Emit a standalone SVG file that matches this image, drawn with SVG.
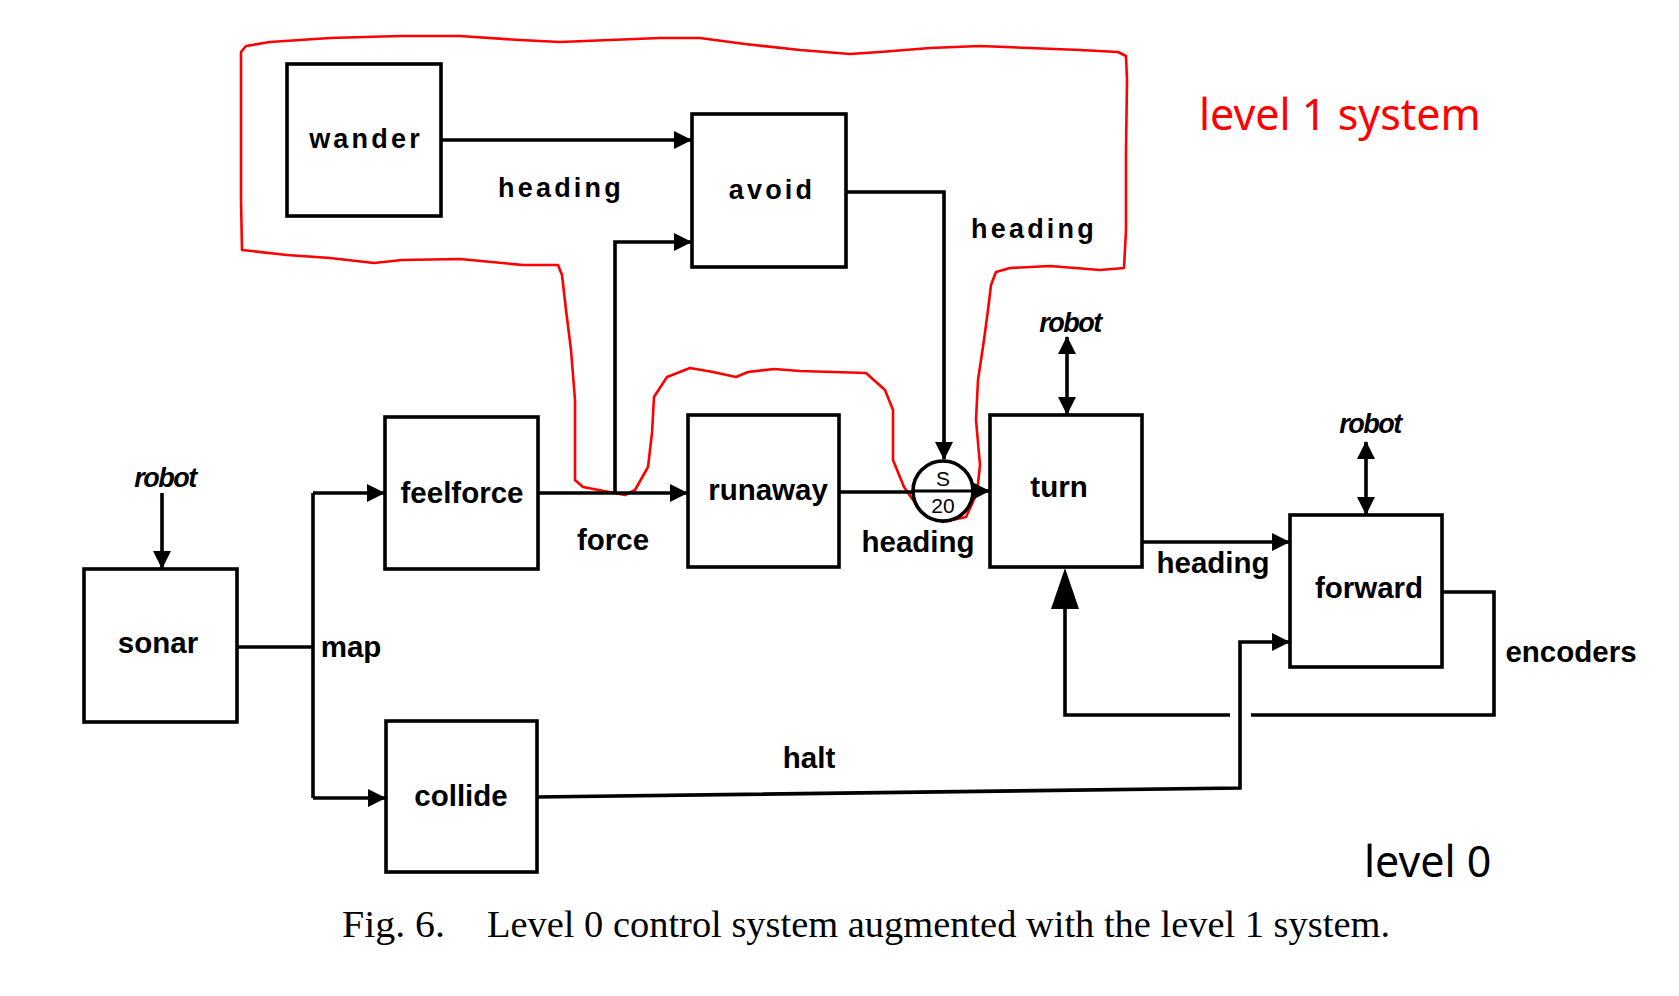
<svg xmlns="http://www.w3.org/2000/svg" width="1679" height="996" viewBox="0 0 1679 996">
<style>
.box{fill:none;stroke:#000;stroke-width:3.6}
.ln{fill:none;stroke:#000;stroke-width:3.6;stroke-linejoin:miter}
.lb{font-family:"Liberation Sans",Arial,sans-serif;font-weight:bold;font-size:29.5px;fill:#000;text-anchor:middle}
.up{font-family:"Liberation Sans",Arial,sans-serif;font-weight:bold;font-size:27px;letter-spacing:3.2px;fill:#000;text-anchor:middle}
.rb{font-family:"Liberation Sans",Arial,sans-serif;font-weight:bold;font-style:italic;font-size:27px;letter-spacing:-1.5px;fill:#000;text-anchor:middle}
.red{font-family:"Noto Sans","Open Sans",sans-serif;font-size:43px;fill:#ff0000}
.cap{font-family:"Liberation Serif","Times New Roman",serif;font-size:37px;fill:#000}
</style>
<defs>
<marker id="arr" markerUnits="userSpaceOnUse" markerWidth="18" markerHeight="18" refX="17" refY="9" orient="auto-start-reverse" viewBox="0 0 18 18">
<path d="M0,0 L18,9 L0,18 z" fill="#000"/>
</marker>
</defs>
<rect width="1679" height="996" fill="#fff"/>

<g id="level1-outline">
<path d="M241,52 L246,46 L270,42 L330,38 L400,36 L460,36 L520,40 L560,42 L610,40 L660,38 L700,38 L745,44 L800,50 L850,54 L880,52 L930,48 L980,46 L1030,48 L1080,50 L1118,52 L1126,56 L1127,80 L1126,150 L1126,230 L1124,268 L1100,270 L1050,266 L1010,268 L996,272 L991,285 L988,310 L984,340 L978,380 L976,420 L980,465 L977,493 L966,517 L943,522 L920,510 L904,487 L893,460 L893,410 L885,390 L866,373 L800,371 L774,369 L748,372 L736,377 L713,372 L690,368 L667,377 L654,397 L652,433 L648,467 L635,490 L625,495 L583,487 L575,480 L575,400 L571,350 L566,310 L562,275 L558,265 L523,265 L460,259 L402,260 L374,263 L330,258 L287,255 L242,250 L241,200 L241,100 Z" fill="none" stroke="#ff0000" stroke-width="2.6" stroke-linejoin="round"/>
<text class="red" x="1199" y="130">level 1 system</text>
</g>

<g id="connectors">
<line class="ln" x1="162" y1="493" x2="162" y2="568" marker-end="url(#arr)"/>
<polyline class="ln" points="237,647 313,647"/>
<polyline class="ln" points="313,493 313,798"/>
<line class="ln" x1="313" y1="493" x2="384" y2="493" marker-end="url(#arr)"/>
<line class="ln" x1="313" y1="798" x2="385" y2="798" marker-end="url(#arr)"/>
<line class="ln" x1="538" y1="493" x2="687" y2="493" marker-end="url(#arr)"/>
<polyline class="ln" points="615,493 615,242 691,242" marker-end="url(#arr)"/>
<line class="ln" x1="441" y1="140" x2="691" y2="140" marker-end="url(#arr)"/>
<polyline class="ln" points="846,192 944,192 944,459" marker-end="url(#arr)"/>
<line class="ln" x1="839" y1="492" x2="913" y2="492"/>
<line class="ln" x1="973" y1="491" x2="989" y2="491" marker-end="url(#arr)"/>
<line class="ln" x1="1067" y1="337" x2="1067" y2="414" marker-start="url(#arr)" marker-end="url(#arr)"/>
<line class="ln" x1="1142" y1="542" x2="1289" y2="542" marker-end="url(#arr)"/>
<line class="ln" x1="1366" y1="442" x2="1366" y2="514" marker-start="url(#arr)" marker-end="url(#arr)"/>
<polyline class="ln" points="1442,592 1494,592 1494,715 1251,715"/>
<polyline class="ln" points="1230,715 1065,715 1065,600"/>
<polygon points="1065,568 1079,609 1051,609" fill="#000"/>
<polyline class="ln" points="537,797 1240,788 1240,642 1289,642" marker-end="url(#arr)"/>
</g>

<g id="suppressor">
<circle cx="943" cy="491" r="30" fill="#fff" stroke="#000" stroke-width="3.6"/>
<line x1="913" y1="491" x2="973" y2="491" stroke="#000" stroke-width="3.2"/>
<text x="943" y="486" font-family="Liberation Sans,Arial,sans-serif" font-size="21" text-anchor="middle">S</text>
<text x="943" y="513" font-family="Liberation Sans,Arial,sans-serif" font-size="21" text-anchor="middle">20</text>
</g>

<g id="wander"><rect class="box" x="287" y="64" width="154" height="152"/><text class="up" x="366" y="148">wander</text></g>
<g id="avoid"><rect class="box" x="692" y="114" width="154" height="153"/><text class="up" x="772" y="199">avoid</text></g>
<g id="sonar"><rect class="box" x="84" y="569" width="153" height="153"/><text class="lb" x="158" y="653">sonar</text></g>
<g id="feelforce"><rect class="box" x="385" y="417" width="153" height="152"/><text class="lb" x="462" y="503">feelforce</text></g>
<g id="collide"><rect class="box" x="386" y="721" width="151" height="151"/><text class="lb" x="461" y="806">collide</text></g>
<g id="runaway"><rect class="box" x="688" y="415" width="151" height="152"/><text class="lb" x="768" y="500">runaway</text></g>
<g id="turn"><rect class="box" x="990" y="415" width="152" height="152"/><text class="lb" x="1059" y="497">turn</text></g>
<g id="forward"><rect class="box" x="1290" y="515" width="152" height="152"/><text class="lb" x="1369" y="598">forward</text></g>

<g id="labels">
<text class="up" x="561" y="197">heading</text>
<text class="up" x="1034" y="238">heading</text>
<text class="rb" x="165" y="487">robot</text>
<text class="rb" x="1070" y="332">robot</text>
<text class="rb" x="1370" y="433">robot</text>
<text class="lb" x="351" y="657">map</text>
<text class="lb" x="613" y="550">force</text>
<text class="lb" x="918" y="552">heading</text>
<text class="lb" x="1213" y="573">heading</text>
<text class="lb" x="1571" y="662">encoders</text>
<text class="lb" x="809" y="768">halt</text>
<text class="red" x="1364" y="877" style="fill:#000" font-size="42">level 0</text>
<text class="cap" x="342" y="937" textLength="103" lengthAdjust="spacingAndGlyphs">Fig. 6.</text>
<text class="cap" x="487" y="937" textLength="903" lengthAdjust="spacingAndGlyphs">Level 0 control system augmented with the level 1 system.</text>
</g>
</svg>
